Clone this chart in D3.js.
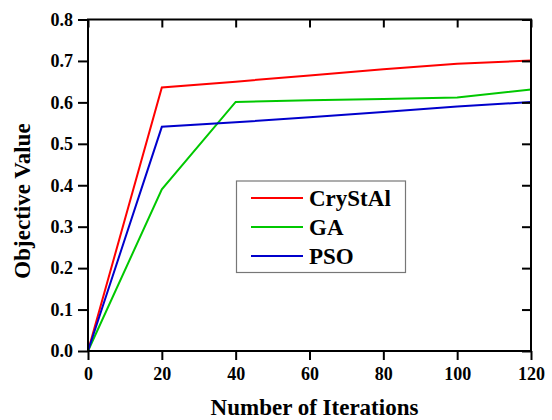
<!DOCTYPE html>
<html><head><meta charset="utf-8">
<script src="https://cdn.jsdelivr.net/npm/d3@7"></script>
<style>body{margin:0;background:#fff;}svg{display:block;}
text{font-family:'Liberation Serif','Times New Roman',serif;font-weight:bold;}</style>
</head><body><svg id="c" width="552" height="420"></svg>
<script>
const iterations = [0, 20, 40, 60, 80, 100, 120];
const crystal = [0, 0.636, 0.650, 0.665, 0.680, 0.693, 0.701];
const ga = [0, 0.390, 0.601, 0.605, 0.608, 0.612, 0.631];
const pso = [0, 0.541, 0.552, 0.564, 0.577, 0.590, 0.601];
const seriesNames = ["CryStAl", "GA", "PSO"];
const seriesColors = ["#ff0000", "#00c800", "#0000cc"];
const xTicks = [0, 20, 40, 60, 80, 100, 120];
const yTicks = [0, 0.1, 0.2, 0.3, 0.4, 0.5, 0.6, 0.7, 0.8];

const svg = d3.select("#c");
const L = 88, R = 531, T = 19.5, B = 351;
const x = d3.scaleLinear().domain([0, 120]).range([L, R]);
const y = d3.scaleLinear().domain([0, 0.8]).range([B, T]);
const font = "'Liberation Serif','Times New Roman',serif";

const seriesData = [crystal, ga, pso];
const line = d3.line().x((d, i) => x(iterations[i])).y(d => y(d));
seriesData.forEach((s, k) => {
  svg.append("path").datum(s).attr("d", line).attr("fill", "none")
    .attr("stroke", seriesColors[k]).attr("stroke-width", 2);
});

function styleAxis(g) {
  g.attr("font-family", font).attr("font-size", 18).attr("font-weight", "bold");
  g.selectAll(".domain").remove();
  g.selectAll("line").attr("stroke", "#000").attr("stroke-width", 2);
  g.selectAll("text").style("font-family", font).style("font-weight", "bold")
    .style("font-size", "18px").attr("fill", "#000");
}
svg.append("g").attr("transform", `translate(0,${B})`)
  .call(d3.axisBottom(x).tickValues(xTicks).tickSize(9).tickPadding(7).tickFormat(d3.format("d")))
  .call(styleAxis);
svg.append("g").attr("transform", `translate(${L},0)`)
  .call(d3.axisLeft(y).tickValues(yTicks).tickSize(10).tickPadding(5).tickFormat(d3.format(".1f")))
  .call(styleAxis);
svg.append("g").attr("transform", `translate(0,${T})`)
  .call(d3.axisBottom(x).tickValues(xTicks).tickSize(8).tickFormat(""))
  .call(styleAxis);
svg.append("g").attr("transform", `translate(${R},0)`)
  .call(d3.axisLeft(y).tickValues(yTicks).tickSize(9).tickFormat(""))
  .call(styleAxis);

svg.append("rect").attr("x", L).attr("y", T).attr("width", R - L).attr("height", B - T)
  .attr("fill", "none").attr("stroke", "#000").attr("stroke-width", 2);

svg.append("text").attr("x", 314.5).attr("y", 414.5).attr("text-anchor", "middle")
  .style("font-family", font).style("font-weight", "bold").style("font-size", "23px")
  .text("Number of Iterations");
svg.append("text").attr("transform", `translate(30,201) rotate(-90)`)
  .attr("text-anchor", "middle")
  .style("font-family", font).style("font-weight", "bold").style("font-size", "23px")
  .text("Objective Value");

const lg = svg.append("g");
lg.append("rect").attr("x", 236.5).attr("y", 181).attr("width", 169).attr("height", 91.5)
  .attr("fill", "#fff").attr("stroke", "#777").attr("stroke-width", 1.2);
seriesNames.forEach((n, k) => {
  const yy = 198 + k * 29;
  lg.append("line").attr("x1", 251).attr("x2", 303).attr("y1", yy).attr("y2", yy)
    .attr("stroke", seriesColors[k]).attr("stroke-width", 2);
  lg.append("text").attr("x", 309).attr("y", yy + 8)
    .style("font-family", font).style("font-weight", "bold").style("font-size", "23px").text(n);
});
</script></body></html>
